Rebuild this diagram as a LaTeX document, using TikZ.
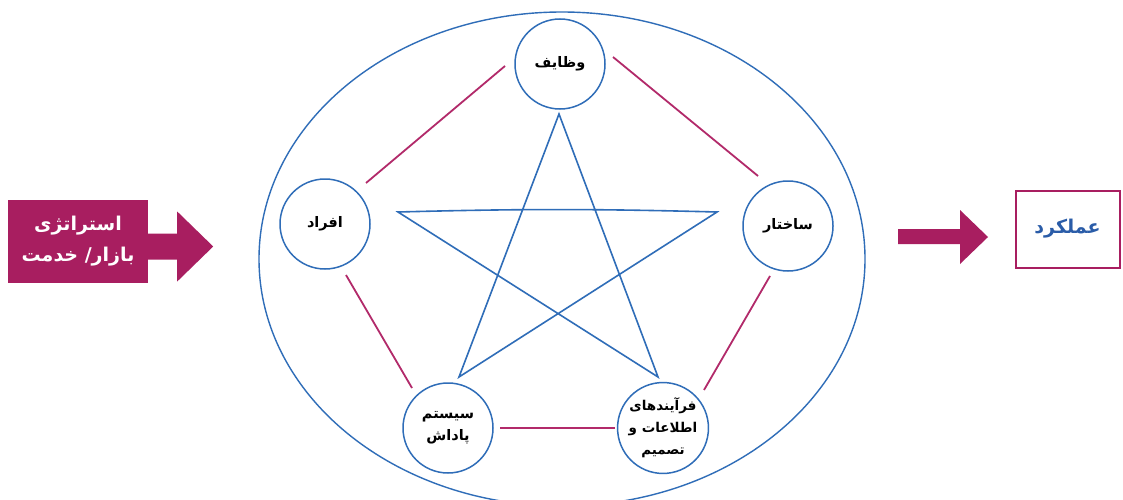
\documentclass[tikz,border=0pt]{standalone}
\usepackage{fontspec}
\newfontfamily\fa[Script=Arabic]{DejaVu Sans}
\TeXXeTstate=1
\usetikzlibrary{calc,shapes.geometric}
\definecolor{mag}{HTML}{A81E60}
\definecolor{pk}{HTML}{B22A6A}
\definecolor{bl}{HTML}{2F6DB8}
\definecolor{tb}{HTML}{2A5CA8}
\newcommand{\RL}[1]{\beginR #1\endR}
\begin{document}
\begin{tikzpicture}[x=1pt,y=-1pt,
  circ/.style={circle,draw=bl,line width=1.5pt,minimum size=90pt,inner sep=0pt,align=center,
    font=\fa\bfseries\fontsize{14.5}{22}\selectfont},
  pl/.style={draw=pk,line width=1.8pt},
  star/.style={draw=bl,line width=1.6pt,line join=miter},
  arr/.style={fill=mag,draw=none}]
\useasboundingbox (0,0) rectangle (1123,500);
\clip (0,0) rectangle (1123,500);
\fill[white] (0,0) rectangle (1123,500);
% outer ellipse
\node[draw=bl,line width=1.4pt,ellipse,minimum width=606pt,minimum height=494pt,inner sep=0pt] (ell) at (562,259) {};
% circles
\node[circ] (t) at (560,64) {\RL{وظایف}};
\node[circ] (l) at (325,224) {\RL{افراد}};
\node[circ] (r) at (788,226) {\RL{ساختار}};
\node[circ] (bl) at (448,428) {\RL{سیستم}\\\RL{پاداش}};
\node[circ,font=\fa\bfseries\fontsize{13.5}{22}\selectfont] (br) at (663,428) {\RL{فرآیندهای}\\\RL{اطلاعات و}\\\RL{تصمیم}};
% pink pentagon
\draw[pl] ($(t)+(-55,2)$) -- ($(l)+(41,-41)$);
\draw[pl] ($(t)+(53,-7)$) -- ($(r)+(-30,-50)$);
\draw[pl] ($(l)+(21,51)$) -- ($(bl)+(-36,-40)$);
\draw[pl] ($(r)+(-18,50)$) -- ($(br)+(41,-38)$);
\draw[pl] ($(bl)+(52,0)$) -- ($(br)+(-48,0)$);
% star
\coordinate (sT) at ($(t)+(-1,50)$);
\coordinate (sL) at ($(l)+(73,-12)$);
\coordinate (sR) at ($(r)+(-71,-14)$);
\coordinate (sBL) at ($(bl)+(11,-51)$);
\coordinate (sBR) at ($(br)+(-5,-51)$);
\draw[star] (sBL) -- (sT) -- (sBR) -- (sL) to[bend left=1.5] (sR) -- cycle;
% left arrow box
\node[arr,minimum width=140pt,minimum height=83pt,inner sep=0pt,align=center,text=white,
  font=\fa\bfseries\fontsize{19}{31}\selectfont] (strat) at (78,241.5) {\RL{استراتژی}\\\RL{بازار/ خدمت}};
\fill[mag] ($(strat.east)+(-1,-8)$) -- ++(30,0) -- ++(0,-22) -- ++(36,35) -- ++(-36,35) -- ++(0,-22) -- ++(-30,0) -- cycle;
% right arrow and box
\node[draw=mag,line width=2pt,minimum width=104pt,minimum height=77pt,inner sep=0pt,
  text=tb,font=\fa\bfseries\fontsize{19}{22}\selectfont] (perf) at (1067.5,229) {\RL{عملکرد}};
\coordinate (ra) at (898,236.5);
\fill[mag] ($(ra)+(0,-7.5)$) -- ++(62,0) -- ++(0,-19) -- ++(28,27) -- ++(-28,27) -- ++(0,-20) -- ++(-62,0) -- cycle;
\end{tikzpicture}
\end{document}
